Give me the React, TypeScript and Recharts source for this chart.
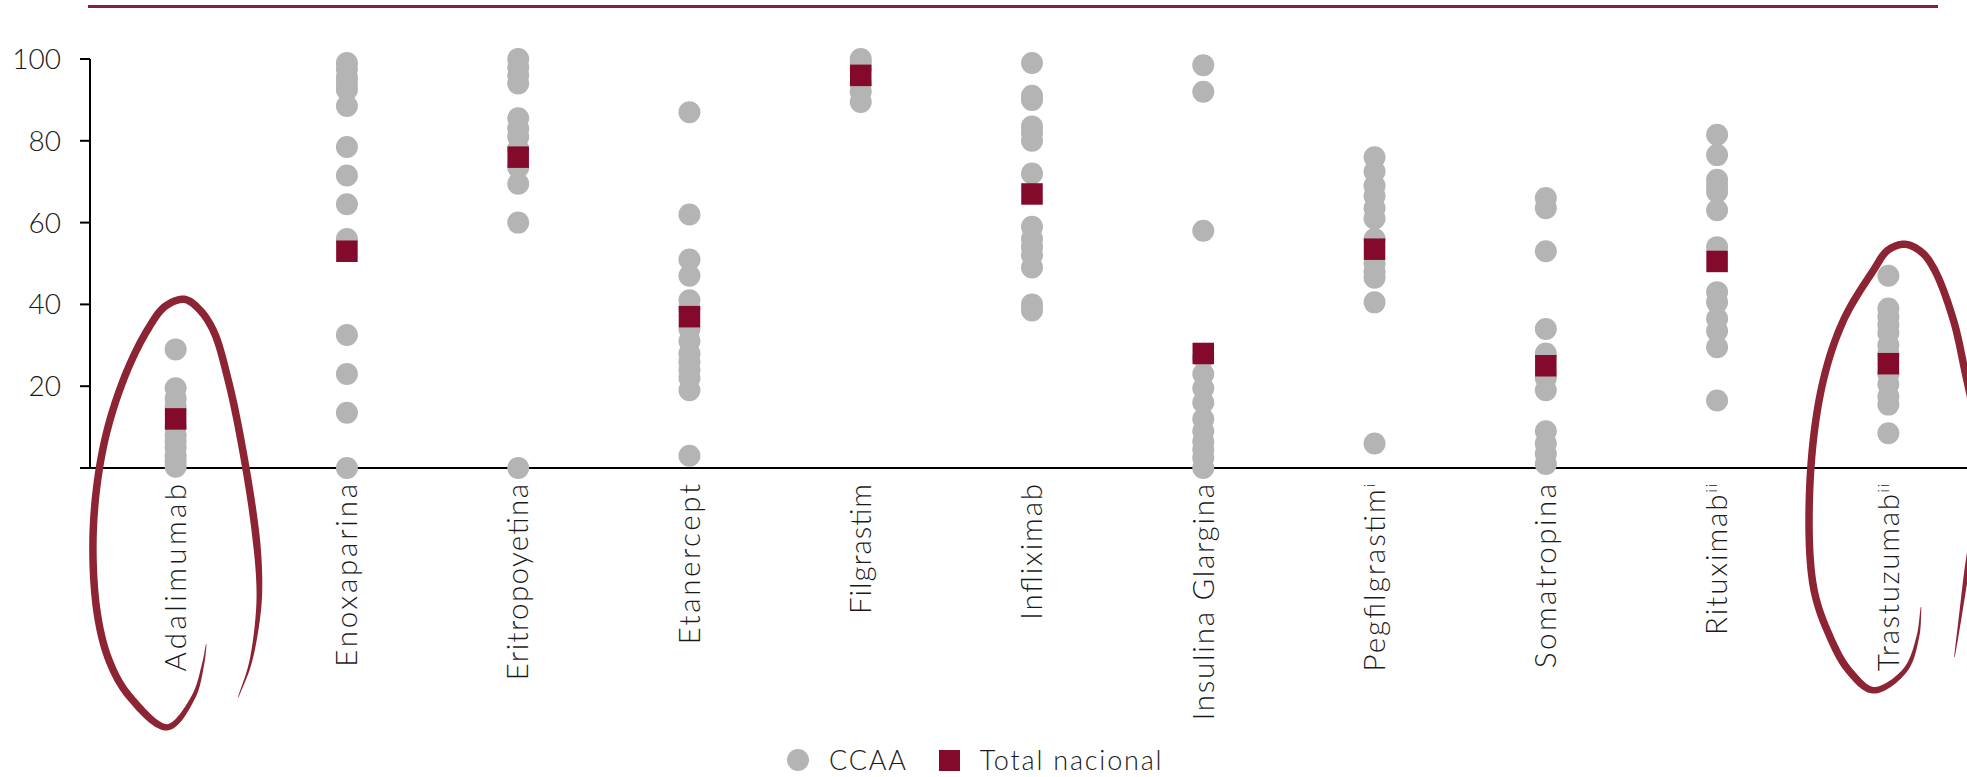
import { ScatterChart, Scatter, XAxis, YAxis, Legend, ReferenceDot } from 'recharts'

const FONT = 'Lato, "Open Sans", sans-serif'
const GREY = '#b4b4b4'
const WINE = '#840a2c'
const LOOP = '#8c2434'

const DRUGS = [
  'Adalimumab',
  'Enoxaparina',
  'Eritropoyetina',
  'Etanercept',
  'Filgrastim',
  'Infliximab',
  'Insulina Glargina',
  'Pegfilgrastim',
  'Somatropina',
  'Rituximab',
  'Trastuzumab',
]
// footnote marks shown after some drug names
const NOTES = ['', '', '', '', '', '', '', 'i', '', 'ii', 'ii']
const Y_TICKS = [0, 20, 40, 60, 80, 100]

// % per comunidad autónoma
const ADALIMUMAB = [29, 19.5, 17, 15, 10, 8, 6.5, 5, 3, 1.5, 0.3]
const ENOXAPARINA = [99, 97.5, 95.5, 94, 92.5, 88.5, 78.5, 71.5, 64.5, 56, 32.5, 23, 13.5, 0]
const ERITROPOYETINA = [100, 98, 96, 94, 85.5, 83, 81, 78, 73.5, 69.5, 60, 0]
const ETANERCEPT = [87, 62, 51, 47, 41, 39, 34, 31, 28, 26, 24, 22, 19, 3]
const FILGRASTIM = [100, 99, 97.5, 94, 92, 89.5]
const INFLIXIMAB = [99, 91, 90, 83.5, 82, 80, 72, 59, 56, 54, 52, 49, 40, 38.5]
const INSULINA_GLARGINA = [98.5, 92, 58, 27, 23, 19.5, 16, 12, 9, 6.5, 4.5, 2.5, 0]
const PEGFILGRASTIM = [76, 72.5, 69, 66.5, 63.5, 61, 56, 50, 48, 46.5, 40.5, 6]
const SOMATROPINA = [66, 63.5, 53, 34, 28, 22, 19, 9, 6, 3.5, 1]
const RITUXIMAB = [81.5, 76.5, 70.5, 69, 67.5, 63, 54, 43, 40.5, 36.5, 33.5, 29.5, 16.5]
const TRASTUZUMAB = [47, 39, 37, 35, 33, 30, 28, 23, 20.5, 17.5, 15.5, 8.5]

const CCAA_BY_DRUG = [
  ADALIMUMAB,
  ENOXAPARINA,
  ERITROPOYETINA,
  ETANERCEPT,
  FILGRASTIM,
  INFLIXIMAB,
  INSULINA_GLARGINA,
  PEGFILGRASTIM,
  SOMATROPINA,
  RITUXIMAB,
  TRASTUZUMAB,
]
const TOTAL_NACIONAL = [12, 53, 76, 37, 96, 67, 28, 53.5, 25, 50.5, 25.5]

const ccaaPoints = DRUGS.flatMap((drug, i) => CCAA_BY_DRUG[i].map((value) => ({ drug, value })))
const totalPoints = DRUGS.map((drug, i) => ({ drug, value: TOTAL_NACIONAL[i] }))

// hand-drawn loops, offsets in px from the category's zero point
const LOOPS: Record<string, number[][]> = {
  Adalimumab: [
    [62.6, 229.3], [74.6, 195.3], [82.6, 145.3], [83.6, 112.3], [79.6, 62.3], [66.6, -20.7],
    [52.6, -87.7], [37.6, -137.7], [22.6, -159.7], [8.6, -168.7], [-10.4, -161.7],
    [-28.4, -137.7], [-52.4, -87.7], [-72.4, -20.7], [-82.4, 62.3], [-78.4, 145.3],
    [-65.4, 195.3], [-45.4, 229.3], [-8.4, 259.3], [17.6, 229.3], [27.6, 195.3], [30.6, 176.3],
  ],
  Trastuzumab: [
    [66.1, 189], [71.4, 152.3], [78.4, 102.3], [86.4, 52.3], [90.4, 2.3], [86.4, -47.7],
    [76.4, -97.7], [65.1, -147.7], [46.4, -197.7], [33.4, -215.7], [16.7, -223.7],
    [-0.6, -217.7], [-14.9, -197.7], [-44.9, -147.7], [-66.6, -81], [-78.6, 19],
    [-74.9, 119], [-58.3, 169], [-39.6, 202.3], [-14.9, 222.3], [16.7, 202.3], [29.4, 169],
    [32.7, 139],
  ],
}

// centripetal Catmull-Rom through the points, sampled densely
function sampleCurve(pts: number[][], cx: number, cy: number, steps = 14) {
  const p = pts.map(([x, y]) => [cx + x, cy + y])
  const n = p.length
  const ext = [
    [2 * p[0][0] - p[1][0], 2 * p[0][1] - p[1][1]],
    ...p,
    [2 * p[n - 1][0] - p[n - 2][0], 2 * p[n - 1][1] - p[n - 2][1]],
  ]
  const lerp = (a: number[], b: number[], ta: number, tb: number, t: number) => {
    const k = tb === ta ? 0 : (t - ta) / (tb - ta)
    return [a[0] + (b[0] - a[0]) * k, a[1] + (b[1] - a[1]) * k]
  }
  const out: number[][] = [p[0]]
  for (let i = 1; i < ext.length - 2; i++) {
    const [p0, p1, p2, p3] = [ext[i - 1], ext[i], ext[i + 1], ext[i + 2]]
    const d = (a: number[], b: number[]) => Math.pow(Math.hypot(b[0] - a[0], b[1] - a[1]), 0.5) || 1e-4
    const t0 = 0
    const t1 = t0 + d(p0, p1)
    const t2 = t1 + d(p1, p2)
    const t3 = t2 + d(p2, p3)
    for (let s = 1; s <= steps; s++) {
      const t = t1 + ((t2 - t1) * s) / steps
      const a1 = lerp(p0, p1, t0, t1, t)
      const a2 = lerp(p1, p2, t1, t2, t)
      const a3 = lerp(p2, p3, t2, t3, t)
      const b1 = lerp(a1, a2, t0, t2, t)
      const b2 = lerp(a2, a3, t1, t3, t)
      out.push(lerp(b1, b2, t1, t2, t))
    }
  }
  return out
}

// outline of a brush stroke that tapers at both ends
function brushPath(pts: number[][], cx: number, cy: number, maxW = 7.5) {
  const c = sampleCurve(pts, cx, cy)
  const len = [0]
  for (let i = 1; i < c.length; i++) {
    len.push(len[i - 1] + Math.hypot(c[i][0] - c[i - 1][0], c[i][1] - c[i - 1][1]))
  }
  const total = len[len.length - 1]
  const left: string[] = []
  const right: string[] = []
  for (let i = 0; i < c.length; i++) {
    const a = c[Math.max(0, i - 1)]
    const b = c[Math.min(c.length - 1, i + 1)]
    const dx = b[0] - a[0]
    const dy = b[1] - a[1]
    const m = Math.hypot(dx, dy) || 1
    const nx = -dy / m
    const ny = dx / m
    const u = len[i] / total
    const ramp = Math.min(1, u / 0.16, (1 - u) / 0.12)
    const w = (0.6 + (maxW - 0.6) * Math.pow(Math.max(0, ramp), 0.8)) / 2
    left.push(`${c[i][0] + nx * w},${c[i][1] + ny * w}`)
    right.push(`${c[i][0] - nx * w},${c[i][1] - ny * w}`)
  }
  return `M${left.join(' L')} L${right.reverse().join(' L')} Z`
}

const LoopShape = (drug: string) => (props: any) => (
  <path d={brushPath(LOOPS[drug], props.cx, props.cy)} fill={LOOP} />
)

// advance widths (1/1000 em) of a wide geometric sans, used to set label lengths
const WIDE_ADVANCE: Record<string, number> = {
  A: 740, E: 536, F: 485, G: 872, I: 226, P: 592, R: 607, S: 498, T: 426,
  a: 683, b: 682, c: 647, d: 685, e: 650, f: 314, g: 673, i: 200, l: 200, m: 938,
  n: 606, o: 655, p: 684, r: 301, s: 388, t: 339, u: 608, x: 554, y: 500, z: 390, ' ': 277,
}
const LABEL_SIZE = 29.5
const NOTE_SIZE = 15
const advance = (s: string, size: number) =>
  [...s].reduce((sum, ch) => sum + (WIDE_ADVANCE[ch] ?? 600), 0) * (size / 1000)

const DrugTick = (props: any) => {
  const { x, y, payload } = props
  const idx = DRUGS.indexOf(payload.value)
  const note = NOTES[idx]
  const top = y + 8
  const length = advance(payload.value, LABEL_SIZE) + (note ? advance(note, NOTE_SIZE) + 3 : 0)
  return (
    <text
      x={x}
      y={top}
      transform={`rotate(-90 ${x} ${top})`}
      textAnchor="end"
      dy="0.35em"
      textLength={length}
      lengthAdjust="spacing"
      fontFamily={FONT}
      fontWeight={300}
      fontSize={LABEL_SIZE}
      fill="#1a1a1a"
    >
      {payload.value}
      {note && (
        <tspan fontSize={NOTE_SIZE} dy={-10}>
          {note}
        </tspan>
      )}
    </text>
  )
}

const CircleDot = (props: any) => <circle cx={props.cx} cy={props.cy} r={11} fill={GREY} />
const SquareDot = (props: any) => (
  <rect x={props.cx - 10.75} y={props.cy - 10.75} width={21.5} height={21.5} fill={WINE} />
)

const renderLegend = (props: any) => {
  const { payload } = props
  return (
    <div
      style={{
        display: 'flex',
        alignItems: 'center',
        height: 28,
        lineHeight: '28px',
        fontFamily: FONT,
        fontWeight: 300,
        fontSize: 27,
        letterSpacing: 1.8,
        color: '#1a1a1a',
        whiteSpace: 'nowrap',
      }}
    >
      {payload.map((entry: any, i: number) => (
        <div key={entry.value} style={{ display: 'flex', alignItems: 'center', marginRight: i === 0 ? 31 : 0 }}>
          <span
            style={{
              display: 'inline-block',
              width: entry.type === 'circle' ? 22 : 21,
              height: entry.type === 'circle' ? 22 : 21,
              borderRadius: entry.type === 'circle' ? '50%' : 0,
              background: entry.color,
              marginRight: 20,
            }}
          />
          <span>{entry.value}</span>
        </div>
      ))}
    </div>
  )
}

export default function App() {
  return (
    <div
      style={{
        position: 'absolute',
        left: 0,
        top: 0,
        width: 1967,
        height: 777,
        overflow: 'hidden',
        background: '#fff',
      }}
    >
      <div style={{ position: 'absolute', left: 88, top: 5, width: 1850, height: 3, background: '#8b1c3c' }} />
      <ScatterChart width={1990} height={777} margin={{ top: 59, right: 16, bottom: 3, left: 0 }}>
        <XAxis
          type="category"
          dataKey="drug"
          allowDuplicatedCategory={false}
          interval={0}
          height={278}
          tickLine={false}
          axisLine={{ stroke: '#000', strokeWidth: 2 }}
          tick={<DrugTick />}
        />
        <YAxis
          type="number"
          dataKey="value"
          domain={[0, 100]}
          ticks={Y_TICKS}
          width={90}
          tickSize={10}
          tickMargin={19}
          tickFormatter={(v: number) => (v === 0 ? '' : String(v))}
          axisLine={{ stroke: '#000', strokeWidth: 2 }}
          tickLine={{ stroke: '#000', strokeWidth: 2 }}
          tick={{ fontSize: 28, fontFamily: FONT, fontWeight: 300, fill: '#1a1a1a' }}
        />
        <Legend
          verticalAlign="bottom"
          content={renderLegend}
          wrapperStyle={{ left: 787, bottom: 3, width: 420 }}
        />
        <Scatter
          name="CCAA"
          data={ccaaPoints}
          fill={GREY}
          legendType="circle"
          shape={CircleDot}
          isAnimationActive={false}
        />
        <Scatter
          name="Total nacional"
          data={totalPoints}
          fill={WINE}
          legendType="square"
          shape={SquareDot}
          isAnimationActive={false}
        />
        {Object.keys(LOOPS).map((drug) => (
          <ReferenceDot key={drug} x={drug} y={0} ifOverflow="visible" shape={LoopShape(drug)} />
        ))}
      </ScatterChart>
    </div>
  )
}
